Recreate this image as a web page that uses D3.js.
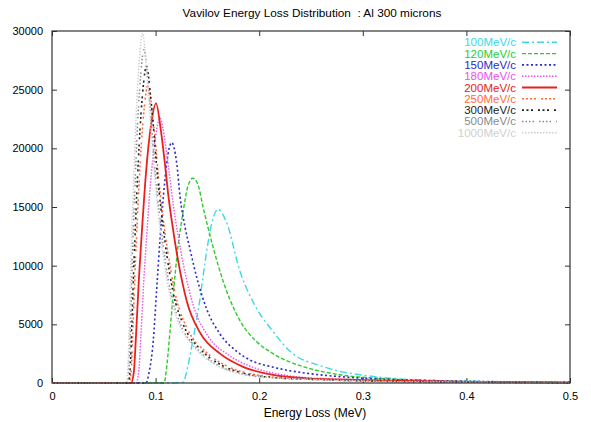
<!DOCTYPE html>
<html>
<head>
<meta charset="utf-8">
<script src="https://cdn.jsdelivr.net/npm/d3@7"></script>
<style>
    body { margin: 0; background: #fff; }
    svg { font-family: "Liberation Sans", Arial, Helvetica, sans-serif; }
    .axis text { font-size: 11px; fill: #000; }
    .axis line { stroke: #333; stroke-width: 1; }
</style>
</head>
<body>
<div id="chart"></div>
<script>
'use strict';

// Energy loss (MeV) / count pairs, one list per momentum
const p100 = [[0, 0], [0.114, 0], [0.1264, 60], [0.1313, 1500], [0.1361, 3700], [0.1429, 7200], [0.1477, 10300],
    [0.1525, 12900], [0.156, 14200], [0.1602, 14800], [0.168, 13800], [0.1815, 9500], [0.1979, 6300], [0.2133, 4400],
    [0.2297, 2700], [0.2616, 1400], [0.31, 560], [0.3745, 200], [0.5, 50]];
const p120 = [[0, 0], [0.1081, 0], [0.111, 1600], [0.1139, 4400], [0.1168, 7300], [0.1216, 11600], [0.1264, 14500],
    [0.1313, 16800], [0.1358, 17450], [0.1409, 16900], [0.1458, 15000], [0.1554, 11600], [0.1651, 8700],
    [0.1815, 5300], [0.1979, 3500], [0.2133, 2500], [0.2461, 1300], [0.278, 700], [0.326, 350], [0.3745, 180], [0.5, 50]];
const p150 = [[0, 0], [0.0907, 0], [0.0936, 850], [0.0978, 3660], [0.101, 7930], [0.1042, 12190], [0.1075, 15880],
    [0.1107, 18720], [0.1155, 20480], [0.1204, 18720], [0.1236, 15880], [0.1284, 13300], [0.1332, 11400],
    [0.1397, 9000], [0.1493, 6300], [0.162, 4200], [0.1782, 2700], [0.1911, 1960], [0.2134, 1350], [0.2459, 830],
    [0.278, 540], [0.3424, 260], [0.5, 60]];
const p180 = [[0, 0], [0.0811, 0], [0.0836, 900], [0.0857, 3840], [0.0885, 8580], [0.0913, 12420], [0.095, 16940],
    [0.0996, 20770], [0.1042, 22580], [0.1095, 20320], [0.1136, 17610], [0.1168, 15350], [0.122, 12420],
    [0.1272, 9940], [0.1366, 6550], [0.1501, 4060], [0.1708, 2370], [0.195, 1310], [0.2259, 650], [0.2606, 380],
    [0.3205, 240], [0.4276, 90], [0.5, 40]];
const p200 = [[0, 0], [0.0763, 0], [0.079, 950], [0.0811, 4050], [0.084, 9060], [0.0869, 13110], [0.0907, 17880],
    [0.0955, 21930], [0.1004, 23840], [0.1052, 21460], [0.1091, 18600], [0.112, 16210], [0.1168, 13110],
    [0.1216, 10490], [0.1303, 6910], [0.1429, 4290], [0.1622, 2500], [0.1844, 1380], [0.2133, 690], [0.2452, 400],
    [0.3002, 250], [0.3996, 95], [0.5, 40]];
const p250 = [[0, 0], [0.0743, 0], [0.0764, 1000], [0.078, 4300], [0.0802, 9650], [0.0824, 14000], [0.0853, 19000],
    [0.089, 23400], [0.0927, 25400], [0.097, 22860], [0.1005, 19810], [0.1031, 17270], [0.1074, 13970],
    [0.1118, 11180], [0.1196, 7370], [0.1309, 4570], [0.1483, 2670], [0.1682, 1470], [0.1943, 740], [0.223, 430],
    [0.272, 270], [0.362, 100], [0.5, 30]];
const p300 = [[0, 0], [0.0734, 0], [0.0753, 1080], [0.0769, 4590], [0.0791, 10260], [0.0812, 14850], [0.0841, 20250],
    [0.0876, 24840], [0.0912, 27000], [0.0953, 24300], [0.0986, 21060], [0.1011, 18360], [0.1052, 14850],
    [0.1093, 11880], [0.1167, 7830], [0.1273, 4860], [0.1437, 2840], [0.1626, 1570], [0.1873, 780], [0.2143, 460],
    [0.2611, 280], [0.3456, 110], [0.5, 30]];
const p500 = [[0, 0], [0.0724, 0], [0.0742, 1140], [0.0757, 4830], [0.0776, 10790], [0.0796, 15620], [0.0822, 21300],
    [0.0855, 26130], [0.0888, 28400], [0.0928, 25560], [0.0959, 22150], [0.0983, 19310], [0.1022, 15620],
    [0.1062, 12500], [0.1133, 8240], [0.1236, 5110], [0.1395, 2980], [0.1576, 1650], [0.1815, 820], [0.2075, 480],
    [0.2529, 300], [0.334, 110], [0.5, 30]];
const p1000 = [[0, 0], [0.0714, 0], [0.0732, 1190], [0.0746, 5070], [0.0765, 11320], [0.0785, 16390], [0.081, 22350],
    [0.0842, 27420], [0.0874, 29800], [0.0912, 26820], [0.0943, 23240], [0.0966, 20260], [0.1005, 16390],
    [0.1043, 13110], [0.1113, 8640], [0.1213, 5360], [0.1368, 3130], [0.1545, 1730], [0.1777, 860], [0.2032, 510],
    [0.2471, 310], [0.3267, 120], [0.5, 30]];

const labels = ['100MeV/c', '120MeV/c', '150MeV/c', '180MeV/c', '200MeV/c', '250MeV/c', '300MeV/c', '500MeV/c', '1000MeV/c'];
const seriesData = [p100, p120, p150, p180, p200, p250, p300, p500, p1000];

const xTicks = [0, 0.1, 0.2, 0.3, 0.4, 0.5];
const yTicks = [0, 5000, 10000, 15000, 20000, 25000, 30000];

// Line styles per series (gnuplot-like)
const colors = ['#3dd8e6', '#2ccc2c', '#2b2bc8', '#ee4fee', '#e82020', '#ff6a3a', '#222222', '#8a8a8a', '#cfcfcf'];
const dashes = ['7,3,2,3', '4,2', '2,2.5', '1.5,1.5', null, '2,2,2,2,2,2,2,5', '2,2.5,2,2.5,2,5', '1.5,2,1.5,2,1.5,2,1.5,5', '1.5,1.5'];
const widths = [1.4, 1.4, 1.6, 1.4, 1.8, 1.5, 1.6, 1.5, 1.5];

const width = 591, height = 422;
const margins = { left: 52, right: 21, top: 31, bottom: 39 };
const innerW = width - margins.left - margins.right;
const innerH = height - margins.top - margins.bottom;

const svg = d3.select('#chart').append('svg')
    .attr('width', width)
    .attr('height', height);

const chart = svg.append('g')
    .attr('transform', `translate(${margins.left}, ${margins.top})`);

const scaleX = d3.scaleLinear().domain([0, 0.5]).range([0, innerW]);
const scaleY = d3.scaleLinear().domain([0, 30000]).range([innerH, 0]);

// Title
svg.append('text')
    .attr('x', 312)
    .attr('y', 17)
    .attr('text-anchor', 'middle')
    .style('font-size', '11.8px')
    .style('white-space', 'pre')
    .attr('fill', '#000')
    .text('Vavilov Energy Loss Distribution  : Al 300 microns');

// Axes with inward ticks, mirrored on top and right
chart.append('g').classed('axis', true)
    .attr('transform', `translate(0, ${innerH})`)
    .call(d3.axisBottom(scaleX).tickValues(xTicks).tickSizeInner(-5).tickSizeOuter(0).tickPadding(9)
        .tickFormat(d3.format('')))
    .call(g => g.select('.domain').remove());

chart.append('g').classed('axis', true)
    .call(d3.axisLeft(scaleY).tickValues(yTicks).tickSizeInner(-5).tickSizeOuter(0).tickPadding(9)
        .tickFormat(d3.format('d')))
    .call(g => g.select('.domain').remove());

chart.append('g').classed('axis', true)
    .call(d3.axisTop(scaleX).tickValues(xTicks).tickSizeInner(-5).tickSizeOuter(0).tickFormat(''))
    .call(g => g.select('.domain').remove());

chart.append('g').classed('axis', true)
    .attr('transform', `translate(${innerW}, 0)`)
    .call(d3.axisRight(scaleY).tickValues(yTicks).tickSizeInner(-5).tickSizeOuter(0).tickFormat(''))
    .call(g => g.select('.domain').remove());

// Curves
const line = d3.line()
    .x(d => scaleX(d[0]))
    .y(d => scaleY(d[1]))
    .curve(d3.curveMonotoneX);

chart.append('g')
    .selectAll('path.curve')
    .data(seriesData)
    .join('path')
    .classed('curve', true)
    .attr('d', d => line(d))
    .attr('fill', 'none')
    .attr('stroke', (d, i) => colors[i])
    .attr('stroke-width', (d, i) => widths[i])
    .attr('stroke-dasharray', (d, i) => dashes[i]);

// Frame
chart.append('rect')
    .attr('width', innerW)
    .attr('height', innerH)
    .attr('fill', 'none')
    .attr('stroke', '#333')
    .attr('stroke-width', 1.2);

// X axis title
svg.append('text')
    .attr('x', 315)
    .attr('y', 417)
    .attr('text-anchor', 'middle')
    .style('font-size', '12px')
    .attr('fill', '#000')
    .text('Energy Loss (MeV)');

// Legend
const legend = svg.append('g');
const rows = legend.selectAll('g.legend-row')
    .data(labels)
    .join('g')
    .classed('legend-row', true)
    .attr('transform', (d, i) => `translate(0, ${42.3 + i * 11.3})`);

rows.append('text')
    .attr('x', 516)
    .attr('dy', '0.35em')
    .attr('text-anchor', 'end')
    .style('font-size', '11.5px')
    .attr('fill', (d, i) => colors[i])
    .text(d => d);

rows.append('line')
    .attr('x1', 522)
    .attr('x2', 557)
    .attr('stroke', (d, i) => colors[i])
    .attr('stroke-width', (d, i) => widths[i])
    .attr('stroke-dasharray', (d, i) => dashes[i]);
</script>
</body>
</html>
